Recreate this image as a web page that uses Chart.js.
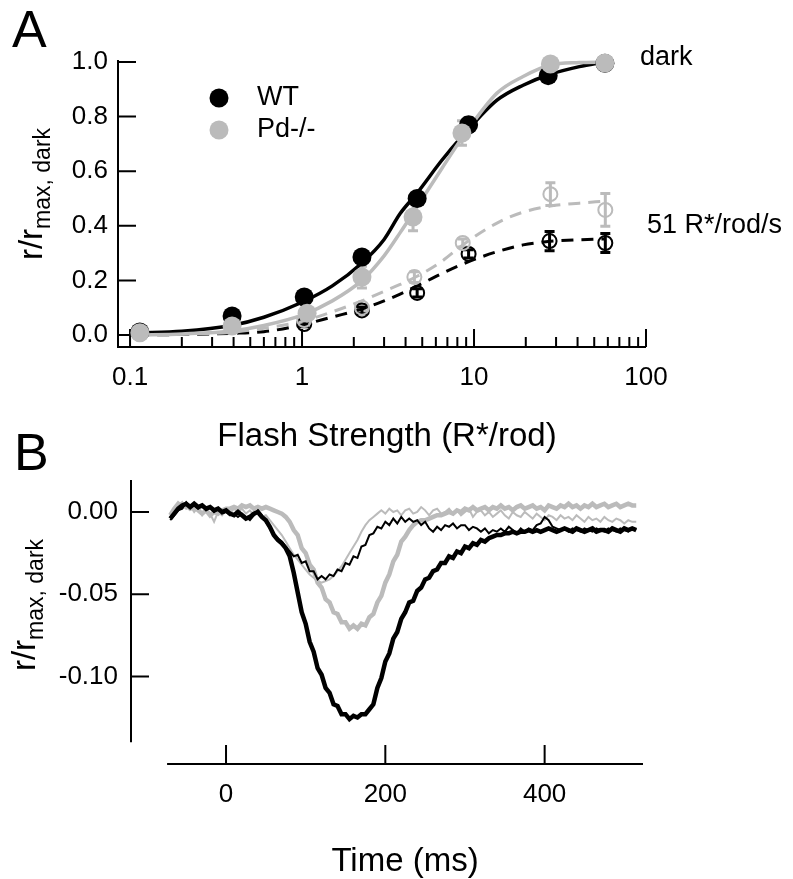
<!DOCTYPE html>
<html>
<head>
<meta charset="utf-8">
<script src="https://cdn.jsdelivr.net/npm/chart.js@4.4.0/dist/chart.umd.min.js"></script>
<style>
  body { margin: 0; background: #fff; }
  #wrap { position: relative; width: 793px; height: 879px; overflow: hidden; }
  canvas { position: absolute; left: 0; }
</style>
</head>
<body>
<div id="wrap">
  <canvas id="chartA" width="793" height="460" style="top:0"></canvas>
  <canvas id="chartB" width="793" height="479" style="top:400px"></canvas>
</div>
<script>
// ---------- panel A : intensity-response ----------
const flashWT = [0.114, 0.392, 1.03, 2.23, 4.67, 9.3, 27.0, 57.7];
const darkWT = [0.011, 0.07, 0.139, 0.286, 0.50, 0.77, 0.95, 0.995];
const darkWTErr = [0.005, 0.01, 0.01, 0.012, 0.02, 0.025, 0.012, 0.005];

const flashPd = [0.114, 0.392, 1.07, 2.23, 4.42, 8.51, 27.8, 57.7];
const darkPd = [0.008, 0.033, 0.08, 0.212, 0.432, 0.74, 0.993, 0.996];
const darkPdErr = [0.004, 0.01, 0.015, 0.04, 0.05, 0.045, 0.01, 0.005];

const flashLightWT = [1.03, 2.23, 4.67, 9.3, 27.5, 58];
const lightWT = [0.04, 0.09, 0.154, 0.297, 0.344, 0.337];
const lightWTErr = [0.01, 0.012, 0.015, 0.015, 0.035, 0.035];

const flashLightPd = [1.03, 2.23, 4.5, 8.6, 27.8, 58];
const lightPd = [0.055, 0.10, 0.212, 0.337, 0.516, 0.458];
const lightPdErr = [0.01, 0.012, 0.02, 0.015, 0.042, 0.06];

// fitted curves
const fitX = [0.11, 0.2, 0.39, 0.6, 1.0, 1.5, 2.23, 3.0, 3.72, 4.67, 6.5, 8.6, 13.6, 19.3, 27.8, 41, 57];
const fitDarkWT = [0.008, 0.014, 0.035, 0.065, 0.12, 0.18, 0.264, 0.35, 0.445, 0.52, 0.64, 0.73, 0.86, 0.915, 0.955, 0.983, 1.0];
const fitDarkPd = [0.0, 0.004, 0.015, 0.035, 0.073, 0.125, 0.20, 0.29, 0.375, 0.47, 0.61, 0.725, 0.886, 0.947, 0.989, 0.998, 1.0];
const fitLightWT = [0.0, 0.002, 0.006, 0.012, 0.037, 0.066, 0.095, 0.125, 0.15, 0.18, 0.225, 0.26, 0.305, 0.33, 0.343, 0.349, 0.352];
const fitLightPd = [0.0, 0.003, 0.01, 0.025, 0.05, 0.085, 0.125, 0.16, 0.185, 0.215, 0.27, 0.33, 0.41, 0.45, 0.472, 0.483, 0.49];

const yTicksA = [0, 0.2, 0.4, 0.6, 0.8, 1.0];
const xMajorA = [0.1, 1, 10, 100];
const xMinorA = [0.2, 0.3, 0.4, 0.5, 0.6, 0.7, 0.8, 0.9, 2, 3, 4, 5, 6, 7, 8, 9, 20, 30, 40, 50, 60, 70, 80, 90];

// ---------- panel B : response traces ----------
const timeMs = [-70, -65, -60, -55, -50, -45, -40, -35, -30, -25,
  -20, -15, -10, -5, 0, 5, 10, 15, 20, 25,
  30, 35, 40, 45, 50, 55, 60, 65, 70, 75,
  80, 85, 90, 95, 100, 105, 110, 115, 120, 125,
  130, 135, 140, 145, 150, 155, 160, 165, 170, 175,
  180, 185, 190, 195, 200, 205, 210, 215, 220, 225,
  230, 235, 240, 245, 250, 255, 260, 265, 270, 275,
  280, 285, 290, 295, 300, 305, 310, 315, 320, 325,
  330, 335, 340, 345, 350, 355, 360, 365, 370, 375,
  380, 385, 390, 395, 400, 405, 410, 415, 420, 425,
  430, 435, 440, 445, 450, 455, 460, 465, 470, 475,
  480, 485, 490, 495, 500, 505, 510, 515];

const wtLarge = [-0.004, -0.001, 0.002, 0.004, 0.005, 0.003, 0.005, 0.003, 0.004, 0.002,
  0.003, 0.001, 0.002, 0.000, 0.001, -0.001, -0.002, 0.000, -0.002, -0.004,
  -0.003, -0.001, 0.000, -0.003, -0.005, -0.009, -0.014, -0.017, -0.019, -0.022,
  -0.027, -0.037, -0.049, -0.061, -0.068, -0.079, -0.085, -0.095, -0.099, -0.107,
  -0.110, -0.117, -0.118, -0.123, -0.123, -0.126, -0.124, -0.125, -0.123, -0.123,
  -0.120, -0.117, -0.107, -0.101, -0.091, -0.086, -0.077, -0.073, -0.065, -0.061,
  -0.055, -0.054, -0.048, -0.046, -0.041, -0.040, -0.036, -0.035, -0.031, -0.031,
  -0.027, -0.028, -0.024, -0.025, -0.021, -0.022, -0.019, -0.020, -0.017, -0.018,
  -0.016, -0.015, -0.014, -0.014, -0.013, -0.013, -0.012, -0.013, -0.012, -0.012,
  -0.011, -0.012, -0.011, -0.012, -0.011, -0.010, -0.011, -0.012, -0.011, -0.010,
  -0.011, -0.012, -0.010, -0.011, -0.012, -0.011, -0.010, -0.012, -0.011, -0.011,
  -0.012, -0.010, -0.011, -0.012, -0.010, -0.011, -0.010, -0.011];

const wtSmall = [-0.005, -0.002, 0.001, 0.002, 0.006, 0.003, 0.004, 0.002, 0.004, 0.001,
  0.003, 0.000, 0.002, -0.001, 0.000, -0.002, -0.001, -0.003, -0.001, -0.003,
  -0.005, -0.002, 0.001, -0.002, -0.006, -0.010, -0.014, -0.016, -0.018, -0.021,
  -0.024, -0.027, -0.026, -0.031, -0.030, -0.036, -0.036, -0.041, -0.039, -0.041,
  -0.038, -0.039, -0.035, -0.036, -0.031, -0.032, -0.027, -0.028, -0.021, -0.020,
  -0.014, -0.013, -0.009, -0.010, -0.006, -0.008, -0.004, -0.007, -0.003, -0.006,
  -0.004, -0.006, -0.005, -0.008, -0.006, -0.010, -0.012, -0.009, -0.011, -0.008,
  -0.009, -0.007, -0.010, -0.008, -0.008, -0.011, -0.009, -0.010, -0.012, -0.010,
  -0.013, -0.011, -0.012, -0.010, -0.012, -0.009, -0.011, -0.013, -0.010, -0.012,
  -0.010, -0.011, -0.008, -0.007, -0.003, -0.005, -0.009, -0.010, -0.011, -0.010,
  -0.012, -0.010, -0.011, -0.012, -0.010, -0.011, -0.012, -0.010, -0.011, -0.012,
  -0.010, -0.011, -0.012, -0.010, -0.011, -0.012, -0.010, -0.011];

const pdLarge = [-0.002, 0.002, 0.005, 0.003, 0.004, 0.002, 0.003, 0.001, -0.001, 0.001,
  -0.002, 0.000, -0.001, 0.001, 0.002, 0.002, 0.003, 0.002, 0.004, 0.003,
  0.004, 0.002, 0.003, 0.002, 0.003, 0.002, 0.001, 0.000, -0.001, -0.003,
  -0.006, -0.011, -0.014, -0.022, -0.025, -0.032, -0.035, -0.043, -0.046, -0.053,
  -0.055, -0.061, -0.062, -0.067, -0.067, -0.071, -0.069, -0.071, -0.068, -0.069,
  -0.064, -0.062, -0.055, -0.051, -0.043, -0.038, -0.030, -0.026, -0.018, -0.015,
  -0.011, -0.008, -0.006, -0.005, -0.005, -0.004, -0.003, -0.002, -0.002, -0.001,
  0.000, -0.001, 0.001, 0.000, 0.002, 0.001, 0.003, 0.001, 0.002, 0.003,
  0.001, 0.003, 0.002, 0.004, 0.002, 0.003, 0.001, 0.003, 0.004, 0.002,
  0.003, 0.004, 0.002, 0.003, 0.001, 0.004, 0.003, 0.002, 0.004, 0.003,
  0.005, 0.003, 0.004, 0.002, 0.004, 0.003, 0.005, 0.003, 0.004, 0.005,
  0.003, 0.004, 0.005, 0.003, 0.004, 0.005, 0.004, 0.004];

const pdSmall = [-0.003, 0.001, 0.004, 0.006, 0.002, 0.004, 0.000, 0.003, -0.002, 0.002,
  -0.001, -0.006, 0.000, -0.002, 0.001, -0.001, 0.002, 0.000, 0.002, -0.001,
  0.001, -0.002, 0.000, -0.003, -0.002, -0.005, -0.008, -0.011, -0.014, -0.018,
  -0.022, -0.026, -0.029, -0.032, -0.035, -0.038, -0.040, -0.042, -0.043, -0.042,
  -0.041, -0.039, -0.036, -0.033, -0.029, -0.025, -0.021, -0.017, -0.012, -0.008,
  -0.005, -0.003, -0.001, 0.001, -0.001, 0.002, 0.000, 0.001, -0.002, 0.001,
  0.002, -0.001, 0.000, 0.003, 0.001, -0.002, 0.001, 0.002, -0.001, 0.000,
  0.002, -0.001, 0.001, -0.002, 0.000, 0.002, -0.003, 0.000, 0.001, -0.002,
  0.000, -0.003, -0.001, 0.001, -0.002, -0.004, 0.000, -0.002, -0.003, 0.000,
  -0.002, -0.004, -0.001, -0.003, -0.005, -0.002, -0.003, -0.005, -0.002, -0.004,
  -0.003, -0.005, -0.002, -0.004, -0.006, -0.003, -0.005, -0.004, -0.006, -0.003,
  -0.005, -0.006, -0.004, -0.005, -0.007, -0.005, -0.006, -0.006];

const yTicksB = [0, -0.05, -0.10];
const xTicksB = [0, 200, 400];
const xAxisStartB = -74;
const yAxisEndB = -0.14;

const FONT = "'Liberation Sans', Arial, Helvetica, sans-serif";
const GREY = '#bbbbbb';

Chart.defaults.font.family = FONT;
Chart.defaults.color = '#000';

const pts = (xs, ys) => xs.map((x, i) => ({ x: x, y: ys[i] }));

function drawYTitle(ctx, x, y) {
  ctx.save();
  ctx.translate(x, y);
  ctx.rotate(-Math.PI / 2);
  ctx.fillStyle = '#000';
  ctx.textBaseline = 'alphabetic';
  ctx.textAlign = 'left';
  ctx.font = '33px ' + FONT;
  const w1 = ctx.measureText('r/r').width;
  ctx.font = '23px ' + FONT;
  const w2 = ctx.measureText('max, dark').width;
  const x0 = -(w1 + w2) / 2;
  ctx.font = '33px ' + FONT;
  ctx.fillText('r/r', x0, 0);
  ctx.font = '23px ' + FONT;
  ctx.fillText('max, dark', x0 + w1, 8);
  ctx.restore();
}

function errorBars(chart) {
  const ctx = chart.ctx;
  const { x, y } = chart.scales;
  chart.data.datasets.forEach((ds) => {
    if (!ds.errors) return;
    ctx.strokeStyle = ds.borderColor;
    ctx.lineWidth = 3;
    ctx.beginPath();
    ds.data.forEach((p, j) => {
      const px = x.getPixelForValue(p.x);
      const top = y.getPixelForValue(p.y + ds.errors[j]);
      const bot = y.getPixelForValue(p.y - ds.errors[j]);
      ctx.moveTo(px, top); ctx.lineTo(px, bot);
      ctx.moveTo(px - 5, top); ctx.lineTo(px + 5, top);
      ctx.moveTo(px - 5, bot); ctx.lineTo(px + 5, bot);
    });
    ctx.stroke();
  });
}

const panelA = {
  id: 'panelA',
  beforeDatasetsDraw(chart) {
    const { ctx, chartArea: a } = chart;
    const { x, y } = chart.scales;
    ctx.save();
    ctx.strokeStyle = '#000';
    ctx.lineWidth = 2;
    ctx.beginPath();
    ctx.moveTo(a.left, a.top - 2);
    ctx.lineTo(a.left, a.bottom);
    ctx.lineTo(a.right, a.bottom);
    yTicksA.forEach(v => {
      const p = y.getPixelForValue(v);
      ctx.moveTo(a.left, p); ctx.lineTo(a.left + 18, p);
    });
    xMajorA.forEach(v => {
      const p = x.getPixelForValue(v);
      ctx.moveTo(p, a.bottom); ctx.lineTo(p, a.bottom - 18);
    });
    xMinorA.forEach(v => {
      const p = x.getPixelForValue(v);
      ctx.moveTo(p, a.bottom); ctx.lineTo(p, a.bottom - 10);
    });
    ctx.stroke();
    errorBars(chart);
    ctx.restore();
  },
  afterDraw(chart) {
    const { ctx, chartArea: a } = chart;
    const { x, y } = chart.scales;
    ctx.save();
    ctx.fillStyle = '#000';
    ctx.textAlign = 'left';
    ctx.textBaseline = 'alphabetic';
    ctx.font = '52px ' + FONT;
    ctx.fillText('A', 12, 47);

    ctx.textAlign = 'center';
    ctx.font = '33px ' + FONT;
    ctx.fillText('Flash Strength (R*/rod)', (a.left + a.right) / 2 + 5, 446);

    drawYTitle(ctx, 42, 194);

    // legend
    ctx.fillStyle = '#000';
    ctx.beginPath(); ctx.arc(219, 98, 9.5, 0, Math.PI * 2); ctx.fill();
    ctx.fillStyle = GREY;
    ctx.beginPath(); ctx.arc(219, 130, 9.5, 0, Math.PI * 2); ctx.fill();
    ctx.fillStyle = '#000';
    ctx.textAlign = 'left';
    ctx.textBaseline = 'middle';
    ctx.font = '27px ' + FONT;
    ctx.fillText('WT', 257, 98);
    ctx.fillText('Pd-/-', 257, 130);

    // curve labels
    ctx.fillText('dark', x.getPixelForValue(100) - 6, y.getPixelForValue(1.0) - 4);
    ctx.fillText('51 R*/rod/s', x.getPixelForValue(100) + 1, y.getPixelForValue(0.4));
    ctx.restore();
  }
};

const panelB = {
  id: 'panelB',
  beforeDatasetsDraw(chart) {
    const { ctx, chartArea: a } = chart;
    const { x, y } = chart.scales;
    ctx.save();
    ctx.strokeStyle = '#000';
    ctx.lineWidth = 2;
    ctx.beginPath();
    ctx.moveTo(a.left, a.top);
    ctx.lineTo(a.left, y.getPixelForValue(yAxisEndB));
    yTicksB.forEach(v => {
      const p = y.getPixelForValue(v);
      ctx.moveTo(a.left, p); ctx.lineTo(a.left + 18, p);
    });
    ctx.moveTo(x.getPixelForValue(xAxisStartB), a.bottom);
    ctx.lineTo(a.right, a.bottom);
    xTicksB.forEach(v => {
      const p = x.getPixelForValue(v);
      ctx.moveTo(p, a.bottom); ctx.lineTo(p, a.bottom - 19);
    });
    ctx.stroke();
    ctx.restore();
  },
  afterDraw(chart) {
    const { ctx, chartArea: a } = chart;
    const { x } = chart.scales;
    ctx.save();
    ctx.fillStyle = '#000';
    ctx.textBaseline = 'alphabetic';
    ctx.textAlign = 'left';
    ctx.font = '52px ' + FONT;
    ctx.fillText('B', 14, 70);
    ctx.textAlign = 'center';
    ctx.font = '33px ' + FONT;
    ctx.fillText('Time (ms)', (x.getPixelForValue(xAxisStartB) + a.right) / 2, 471);
    drawYTitle(ctx, 35, 205);
    ctx.restore();
  }
};

const noGrid = { display: false, drawTicks: false, tickLength: 0 };
const tickFont = { family: FONT, size: 26 };

new Chart(document.getElementById('chartA'), {
  type: 'line',
  data: {
    datasets: [
      { data: pts(flashPd, darkPd), errors: darkPdErr, showLine: false, order: 0,
        borderColor: GREY, pointBackgroundColor: GREY, pointRadius: 9.5, pointBorderWidth: 0, clip: false },
      { data: pts(flashWT, darkWT), errors: darkWTErr, showLine: false, order: 1,
        borderColor: '#000', pointBackgroundColor: '#000', pointRadius: 9.5, pointBorderWidth: 0, clip: false },
      { data: pts(flashLightPd, lightPd), errors: lightPdErr, showLine: false, order: 2,
        borderColor: GREY, pointBorderColor: GREY, pointBackgroundColor: 'rgba(0,0,0,0)', pointRadius: 7, pointBorderWidth: 2, clip: false },
      { data: pts(flashLightWT, lightWT), errors: lightWTErr, showLine: false, order: 3,
        borderColor: '#000', pointBorderColor: '#000', pointBackgroundColor: 'rgba(0,0,0,0)', pointRadius: 7, pointBorderWidth: 2, clip: false },
      { data: pts(fitX, fitDarkPd), borderColor: GREY, borderWidth: 3.5, pointRadius: 0, order: 4,
        cubicInterpolationMode: 'monotone', clip: false },
      { data: pts(fitX, fitDarkWT), borderColor: '#000', borderWidth: 3.5, pointRadius: 0, order: 5,
        cubicInterpolationMode: 'monotone', clip: false },
      { data: pts(fitX, fitLightPd), borderColor: GREY, borderWidth: 3, borderDash: [12, 8], pointRadius: 0, order: 6,
        cubicInterpolationMode: 'monotone', clip: false },
      { data: pts(fitX, fitLightWT), borderColor: '#000', borderWidth: 3, borderDash: [12, 8], pointRadius: 0, order: 7,
        cubicInterpolationMode: 'monotone', clip: false }
    ]
  },
  options: {
    responsive: false,
    animation: false,
    devicePixelRatio: 1,
    layout: { padding: { left: 0, right: 147, top: 62, bottom: 0 } },
    plugins: { legend: { display: false }, tooltip: { enabled: false } },
    scales: {
      x: {
        type: 'logarithmic', min: 0.0851, max: 100,
        grid: noGrid, border: { display: false },
        afterBuildTicks: s => { s.ticks = xMajorA.map(v => ({ value: v })); },
        afterFit: s => { s.height = 113; },
        ticks: { font: tickFont, color: '#000', padding: 15, autoSkip: false, maxRotation: 0,
          callback: v => String(v) }
      },
      y: {
        type: 'linear', min: -0.044, max: 1.0, bounds: 'data',
        grid: noGrid, border: { display: false },
        afterBuildTicks: s => { s.ticks = yTicksA.map(v => ({ value: v })); },
        afterFit: s => { s.width = 118; },
        ticks: { font: tickFont, color: '#000', padding: 10, callback: v => v.toFixed(1) }
      }
    }
  },
  plugins: [panelA]
});

new Chart(document.getElementById('chartB'), {
  type: 'line',
  data: {
    datasets: [
      { data: pts(timeMs, wtLarge), borderColor: '#000', borderWidth: 4.5, pointRadius: 0 },
      { data: pts(timeMs, wtSmall), borderColor: '#000', borderWidth: 2, pointRadius: 0 },
      { data: pts(timeMs, pdLarge), borderColor: GREY, borderWidth: 4.5, pointRadius: 0 },
      { data: pts(timeMs, pdSmall), borderColor: GREY, borderWidth: 2, pointRadius: 0 }
    ]
  },
  options: {
    responsive: false,
    animation: false,
    devicePixelRatio: 1,
    layout: { padding: { left: 0, right: 150, top: 80, bottom: 0 } },
    plugins: { legend: { display: false }, tooltip: { enabled: false } },
    scales: {
      x: {
        type: 'linear', min: -119.3, max: 523.5, bounds: 'data',
        grid: noGrid, border: { display: false },
        afterBuildTicks: s => { s.ticks = xTicksB.map(v => ({ value: v })); },
        afterFit: s => { s.height = 115; },
        ticks: { font: tickFont, color: '#000', padding: 15, autoSkip: false, maxRotation: 0,
          callback: v => String(v) }
      },
      y: {
        type: 'linear', min: -0.1533, max: 0.01946, bounds: 'data',
        grid: noGrid, border: { display: false },
        afterBuildTicks: s => { s.ticks = yTicksB.map(v => ({ value: v })); },
        afterFit: s => { s.width = 131; },
        ticks: { font: tickFont, color: '#000', padding: 13, callback: v => v.toFixed(2) }
      }
    }
  },
  plugins: [panelB]
});
</script>
</body>
</html>
